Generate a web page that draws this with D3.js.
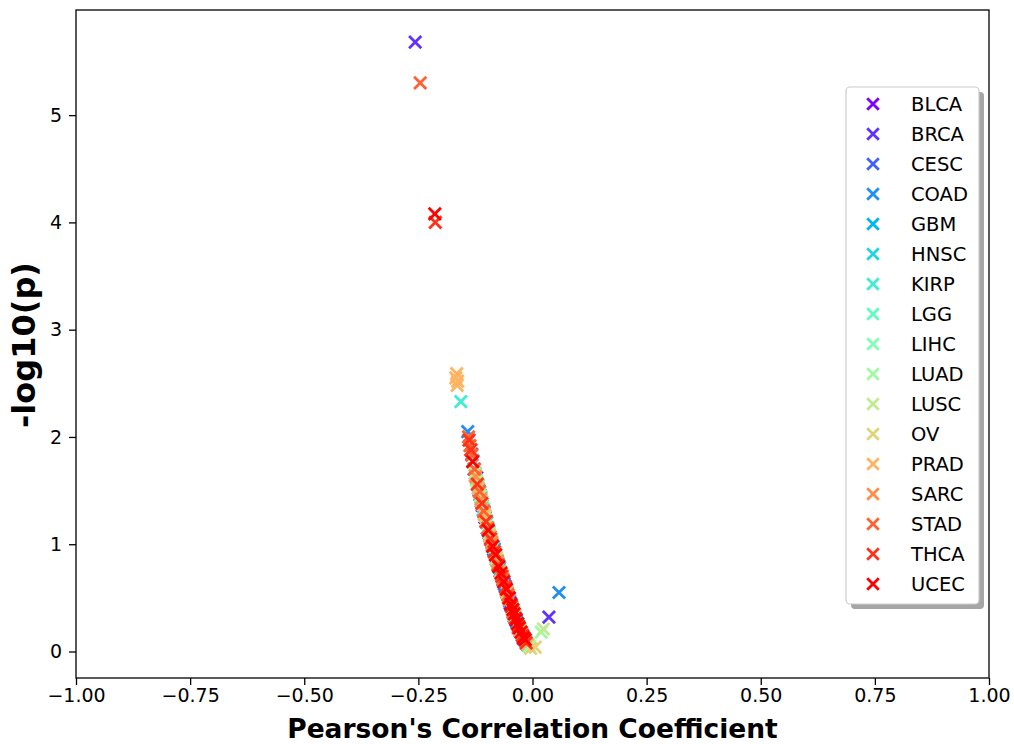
<!DOCTYPE html>
<html>
<head>
<meta charset="utf-8">
<script src="https://cdn.jsdelivr.net/npm/d3@7"></script>
<style>
  body { margin: 0; background: #fff; }
  svg { display: block; font-family: "DejaVu Sans", sans-serif; }
</style>
</head>
<body>
<svg id="chart" width="1014" height="744"></svg>
<script>
"use strict";
// cancer types, drawn in this order (last one ends up on top)
var categories = ["BLCA", "BRCA", "CESC", "COAD", "GBM", "HNSC", "KIRP", "LGG", "LIHC",
    "LUAD", "LUSC", "OV", "PRAD", "SARC", "STAD", "THCA", "UCEC"];

// [pearson r, -log10(p)] pairs per cancer type
var BLCA = [[-0.122, 1.62], [-0.112, 1.40], [-0.104, 1.25], [-0.099, 1.15], [-0.091, 1.04], [-0.085, 0.95], [-0.079, 0.86],
    [-0.071, 0.75], [-0.064, 0.66], [-0.056, 0.55], [-0.049, 0.45], [-0.040, 0.33], [-0.031, 0.22], [-0.020, 0.12]];
var BRCA = [[-0.257, 5.68], [0.036, 0.32], [-0.128, 1.70], [-0.110, 1.36], [-0.095, 1.10], [-0.081, 0.90], [-0.067, 0.71],
    [-0.052, 0.50], [-0.036, 0.29], [-0.022, 0.15]];
var CESC = [[-0.133, 1.84], [-0.117, 1.50], [-0.106, 1.30], [-0.093, 1.07], [-0.083, 0.93], [-0.074, 0.80], [-0.062, 0.63],
    [-0.050, 0.47], [-0.043, 0.37], [-0.027, 0.19], [-0.012, 0.07]];
var COAD = [[-0.142, 2.05], [0.058, 0.55], [-0.130, 1.78], [-0.115, 1.46], [-0.101, 1.22], [-0.087, 0.98], [-0.075, 0.82],
    [-0.060, 0.61], [-0.047, 0.43], [-0.034, 0.27], [-0.019, 0.13]];
var GBM = [[-0.120, 1.55], [-0.108, 1.32], [-0.096, 1.12], [-0.084, 0.96], [-0.072, 0.78], [-0.057, 0.57], [-0.044, 0.40],
    [-0.032, 0.26], [-0.016, 0.10]];
var HNSC = [[-0.125, 1.66], [-0.113, 1.44], [-0.100, 1.20], [-0.089, 1.01], [-0.077, 0.85], [-0.063, 0.65], [-0.051, 0.49],
    [-0.039, 0.33], [-0.024, 0.17], [-0.010, 0.06]];
var KIRP = [[-0.157, 2.33], [-0.118, 1.52], [-0.104, 1.27], [-0.092, 1.06], [-0.080, 0.88], [-0.066, 0.69], [-0.054, 0.52],
    [-0.041, 0.35], [-0.028, 0.21]];
var LGG = [[-0.131, 1.78], [-0.119, 1.55], [-0.107, 1.33], [-0.097, 1.14], [-0.086, 0.97], [-0.073, 0.79], [-0.059, 0.59],
    [-0.046, 0.42], [-0.033, 0.26], [-0.018, 0.12]];
var LIHC = [[-0.123, 1.60], [-0.111, 1.40], [-0.098, 1.16], [-0.088, 1.00], [-0.076, 0.82], [-0.065, 0.68], [-0.053, 0.51],
    [-0.040, 0.34], [-0.026, 0.19], [-0.013, 0.08]];
var LUAD = [[0.019, 0.18], [-0.126, 1.66], [-0.114, 1.45], [-0.102, 1.23], [-0.090, 1.04], [-0.078, 0.86], [-0.068, 0.72],
    [-0.055, 0.54], [-0.042, 0.37], [-0.029, 0.22], [-0.007, 0.05]];
var LUSC = [[0.024, 0.21], [-0.121, 1.58], [-0.109, 1.37], [-0.094, 1.10], [-0.082, 0.92], [-0.070, 0.75], [-0.058, 0.58],
    [-0.045, 0.40], [-0.030, 0.23], [-0.015, 0.09]];
var OV = [[0.006, 0.04], [-0.116, 1.48], [-0.103, 1.26], [-0.091, 1.05], [-0.079, 0.87], [-0.066, 0.70], [-0.053, 0.52],
    [-0.039, 0.34], [-0.023, 0.16], [-0.004, 0.03]];
var PRAD = [[-0.166, 2.59], [-0.168, 2.55], [-0.164, 2.52], [-0.165, 2.48], [-0.126, 1.64], [-0.119, 1.52], [-0.106, 1.28],
    [-0.094, 1.08], [-0.083, 0.92], [-0.070, 0.74], [-0.057, 0.56], [-0.043, 0.38], [-0.028, 0.20], [-0.011, 0.07]];
var SARC = [[-0.135, 1.88], [-0.124, 1.63], [-0.113, 1.42], [-0.101, 1.21], [-0.089, 1.02], [-0.077, 0.84], [-0.064, 0.67],
    [-0.051, 0.48], [-0.037, 0.31], [-0.021, 0.14]];
var STAD = [[-0.246, 5.30], [-0.140, 2.00], [-0.137, 1.92], [-0.133, 1.83], [-0.127, 1.70], [-0.116, 1.49], [-0.107, 1.31],
    [-0.098, 1.15], [-0.088, 0.99], [-0.076, 0.81], [-0.065, 0.67], [-0.054, 0.53], [-0.042, 0.36], [-0.030, 0.23], [-0.017, 0.11]];
var THCA = [[-0.213, 4.00], [-0.139, 1.97], [-0.135, 1.88], [-0.121, 1.56], [-0.111, 1.38], [-0.102, 1.21], [-0.092, 1.05],
    [-0.084, 0.93], [-0.075, 0.80], [-0.067, 0.70], [-0.059, 0.60], [-0.052, 0.50], [-0.046, 0.42], [-0.038, 0.31],
    [-0.031, 0.24], [-0.022, 0.15], [-0.014, 0.08]];
var UCEC = [[-0.214, 4.08], [-0.131, 1.77], [-0.097, 1.13], [-0.087, 0.98], [-0.081, 0.90], [-0.074, 0.79], [-0.069, 0.73],
    [-0.063, 0.65], [-0.057, 0.58], [-0.051, 0.50], [-0.047, 0.44], [-0.043, 0.39], [-0.040, 0.35], [-0.036, 0.30],
    [-0.033, 0.26], [-0.029, 0.22], [-0.025, 0.18], [-0.020, 0.13], [-0.016, 0.11]];

var seriesValues = [BLCA, BRCA, CESC, COAD, GBM, HNSC, KIRP, LGG, LIHC, LUAD, LUSC, OV, PRAD, SARC, STAD, THCA, UCEC];

var xTicks = [-1.00, -0.75, -0.50, -0.25, 0.00, 0.25, 0.50, 0.75, 1.00];
var yTicks = [0, 1, 2, 3, 4, 5];

// matplotlib's "rainbow" colormap
function rainbow(t) {
    var r = Math.min(1, Math.abs(2 * t - 0.5));
    var g = Math.sin(Math.PI * t);
    var b = Math.max(0, Math.cos(Math.PI * t / 2));
    return d3.rgb(r * 255, g * 255, b * 255).formatHex();
}
function colorFor(i) {
    return rainbow(i / (categories.length - 1));
}

var svg = d3.select("#chart");
var plotLeft = 76, plotRight = 989, plotTop = 10, plotBottom = 678;

var x = d3.scaleLinear().domain([-1, 1]).range([plotLeft, plotRight]);
var y = d3.scaleLinear().domain([-0.247, 5.98]).range([plotBottom, plotTop]);

function appendCross(onto, cx, cy, half, color) {
    onto.append("path")
        .attr("d", "M" + (cx - half) + "," + (cy - half) + "L" + (cx + half) + "," + (cy + half) +
            "M" + (cx - half) + "," + (cy + half) + "L" + (cx + half) + "," + (cy - half))
        .attr("stroke", color)
        .attr("stroke-width", 2.8)
        .attr("fill", "none");
}

// points
var plot = svg.append("g");
seriesValues.forEach(function (pts, i) {
    pts.forEach(function (p) {
        appendCross(plot, x(p[0]), y(p[1]), 6.1, colorFor(i));
    });
});

// axes
var xAxis = svg.append("g")
    .attr("transform", "translate(0," + plotBottom + ")")
    .call(d3.axisBottom(x).tickValues(xTicks).tickFormat(d3.format(".2f")).tickSize(7).tickPadding(4));
var yAxis = svg.append("g")
    .attr("transform", "translate(" + plotLeft + ",0)")
    .call(d3.axisLeft(y).tickValues(yTicks).tickFormat(d3.format("d")).tickSize(7).tickPadding(7));
[xAxis, yAxis].forEach(function (a) {
    a.select(".domain").remove();
    a.selectAll("line").attr("stroke", "#000").attr("stroke-width", 1.3);
    a.selectAll("text").attr("font-family", "DejaVu Sans").attr("font-size", 19).attr("fill", "#000");
});

// frame
svg.append("rect")
    .attr("x", plotLeft).attr("y", plotTop)
    .attr("width", plotRight - plotLeft).attr("height", plotBottom - plotTop)
    .attr("fill", "none")
    .attr("stroke", "#000")
    .attr("stroke-width", 1.3);

// axis labels
svg.append("text")
    .attr("x", (plotLeft + plotRight) / 2).attr("y", 738)
    .attr("text-anchor", "middle")
    .attr("font-size", 26.5).attr("font-weight", "bold")
    .text("Pearson's Correlation Coefficient");
svg.append("text")
    .attr("transform", "translate(35,345) rotate(-90)")
    .attr("text-anchor", "middle")
    .attr("font-size", 32).attr("font-weight", "bold")
    .text("-log10(p)");

// legend
var lg = svg.append("g");
lg.append("rect")
    .attr("x", 851).attr("y", 92).attr("width", 133).attr("height", 517).attr("rx", 4)
    .attr("fill", "#a6a6a6");
lg.append("rect")
    .attr("x", 846).attr("y", 87).attr("width", 133).attr("height", 517).attr("rx", 4)
    .attr("fill", "#fff").attr("stroke", "#ccc").attr("stroke-width", 1.2);
categories.forEach(function (c, i) {
    var ly = 104 + 30 * i;
    appendCross(lg, 873, ly, 5.8, colorFor(i));
    lg.append("text")
        .attr("x", 911).attr("y", ly)
        .attr("dy", "0.36em")
        .attr("font-size", 19.5)
        .text(c);
});
</script>
</body>
</html>
